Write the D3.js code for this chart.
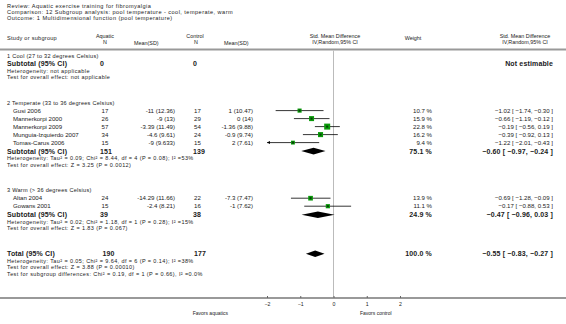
<html>
<head>
<meta charset="utf-8">
<style>
  body { margin: 0; background: #fff; }
  text { font-family: "Liberation Sans", Arial, sans-serif; fill: #1a1a1a; }
</style>
</head>
<body>
<svg id="container" width="566" height="324"></svg>
<script src="https://cdn.jsdelivr.net/npm/d3@7"></script>
<script>
    // ---- data ----
    let headerLines = ["Review:  Aquatic exercise training for fibromyalgia",
        "Comparison:  12 Subgroup analysis: pool temperature - cool, temperate, warm",
        "Outcome:  1 Multidimensional function (pool temperature)"]

    let groupLabels = ["1 Cool (27 to 32 degrees Celsius)",
        "2 Temperate (33 to 36 degrees Celsius)",
        "3 Warm (> 36 degrees Celsius)"]

    let studyNames = ["Gusi 2006", "Mannerkorpi 2000", "Mannerkorpi 2009", "Munguia-Izquierdo 2007",
        "Tomas-Carus 2006", "Altan 2004", "Gowans 2001"]
    let studyGroup = [1, 1, 1, 1, 1, 2, 2]
    let aquaticN = [17, 26, 57, 34, 15, 24, 15]
    let aquaticMeanSD = ["-11 (12.36)", "-9 (13)", "-3.39 (11.49)", "-4.6 (9.61)", "-9 (9.633)", "-14.29 (11.66)", "-2.4 (8.21)"]
    let controlN = [17, 29, 54, 24, 15, 22, 16]
    let controlMeanSD = ["1 (10.47)", "0 (14)", "-1.36 (9.88)", "-0.9 (9.74)", "2 (7.61)", "-7.3 (7.47)", "-1 (7.62)"]
    let weights = [10.7, 15.9, 22.8, 16.2, 9.4, 13.9, 11.1]
    let smd = [-1.02, -0.66, -0.19, -0.39, -1.22, -0.69, -0.17]
    let ciLow = [-1.74, -1.19, -0.56, -0.92, -2.01, -1.28, -0.88]
    let ciHigh = [-0.30, -0.12, 0.19, 0.13, -0.43, -0.09, 0.53]

    let subtotalAquaticN = [0, 151, 39]
    let subtotalControlN = [0, 139, 38]
    let subtotalWeight = [null, 75.1, 24.9]
    let subtotalSmd = [null, -0.60, -0.47]
    let subtotalLow = [null, -0.97, -0.96]
    let subtotalHigh = [null, -0.24, 0.03]
    let heterogeneity = ["Heterogeneity: not applicable",
        "Heterogeneity: Tau\u00b2 = 0.09; Chi\u00b2 = 8.44, df = 4 (P = 0.08); I\u00b2 =53%",
        "Heterogeneity: Tau\u00b2 = 0.02; Chi\u00b2 = 1.18, df = 1 (P = 0.28); I\u00b2 =15%"]
    let overallEffect = ["Test for overall effect: not applicable",
        "Test for overall effect: Z = 3.25 (P = 0.0012)",
        "Test for overall effect: Z = 1.83 (P = 0.067)"]

    let totalN = [190, 177]
    let totalWeight = 100.0
    let totalEstimate = [-0.55, -0.83, -0.27]
    let totalNotes = ["Heterogeneity: Tau\u00b2 = 0.05; Chi\u00b2 = 9.64, df = 6 (P = 0.14); I\u00b2 =38%",
        "Test for overall effect: Z = 3.88 (P = 0.00010)",
        "Test for subgroup differences: Chi\u00b2 = 0.19, df = 1 (P = 0.66), I\u00b2 =0.0%"]

    let axisTicks = [-2, -1, 0, 1, 2]
    let favorsLabels = ["Favors aquatics", "Favors control"]

    // ---- layout ----
    let svg = d3.select("#container")
    let W = 566
    let x = d3.scaleLinear().domain([-2, 2]).range([267, 400])
    let boxSize = d3.scaleSqrt().domain([0, 22.8]).range([0, 6])
    let f2 = d3.format(".2f")
    let ciText = (e, l, h) => f2(e) + " [ " + f2(l) + ", " + f2(h) + " ]"

    let col = { name: 7, indent: 13, aqN: 101.5, aqMean: 175, ctN: 194, ctMean: 253, weight: 432, ci: 553 }
    let topRule = 49.5, axisY = 298
    let fs = 6.1, fsHead = 5.4, fsBold = 7.0, fsNote = 5.5

    function txt(g, s, px, py, opts) {
        opts = opts || {}
        return g.append("text")
            .attr("x", px).attr("y", py)
            .attr("font-size", opts.size || fs)
            .attr("font-weight", opts.bold ? "bold" : "normal")
            .attr("text-anchor", opts.anchor || "start")
            .attr("letter-spacing", opts.ls || 0)
            .text(s)
    }
    let note = { size: fsNote, ls: 0.4 }
    let bold = { size: fsBold, bold: true, ls: 0.15 }

    // title lines
    headerLines.forEach((s, i) => txt(svg, s, 7, 7.5 + i * 6, { size: 5.6, ls: 0.45 }))

    // column headers
    txt(svg, "Study or subgroup", col.name, 40, { size: 5.6, ls: 0.25 })
    txt(svg, "Aquatic", 105, 38, { anchor: "middle", size: fsHead })
    txt(svg, "N", 105, 43.5, { anchor: "middle", size: fsHead })
    txt(svg, "Mean(SD)", 134, 45, { size: fsHead })
    txt(svg, "Control", 195, 38, { anchor: "middle", size: fsHead })
    txt(svg, "N", 196, 43.5, { anchor: "middle", size: fsHead })
    txt(svg, "Mean(SD)", 224, 45, { size: fsHead })
    txt(svg, "Std. Mean Difference", 335, 38, { anchor: "middle", size: fsHead })
    txt(svg, "IV,Random,95% CI", 335, 43.5, { anchor: "middle", size: fsHead })
    txt(svg, "Weight", 413, 40, { anchor: "middle", size: fsHead })
    txt(svg, "Std. Mean Difference", 525, 38, { anchor: "middle", size: fsHead })
    txt(svg, "IV,Random,95% CI", 525, 43.5, { anchor: "middle", size: fsHead })

    svg.append("line").attr("x1", 0).attr("x2", W).attr("y1", topRule).attr("y2", topRule)
        .attr("stroke", "#999").attr("stroke-width", 2)

    // zero line
    svg.append("line").attr("x1", x(0)).attr("x2", x(0)).attr("y1", topRule + 1).attr("y2", axisY)
        .attr("stroke", "#bbb").attr("stroke-width", 1)

    let body = svg.append("g")

    function diamond(e, l, h, cy) {
        body.append("path")
            .attr("d", `M${x(l)},${cy} L${x(e)},${cy - 3.3} L${x(h)},${cy} L${x(e)},${cy + 3.3} Z`)
            .attr("fill", "#000")
    }

    let y = 56
    groupLabels.forEach((label, g) => {
        txt(body, label, col.name, y + 2, { size: 5.6, ls: 0.25 })
        let idx = d3.range(studyNames.length).filter(i => studyGroup[i] === g)
        idx.forEach(i => {
            y += 8
            let b = y + 2.1
            txt(body, studyNames[i], col.indent, b)
            txt(body, aquaticN[i], col.aqN, b)
            txt(body, aquaticMeanSD[i], col.aqMean, b, { anchor: "end" })
            txt(body, controlN[i], col.ctN, b)
            txt(body, controlMeanSD[i], col.ctMean, b, { anchor: "end" })
            txt(body, weights[i].toFixed(1) + " %", col.weight, b, { anchor: "end" })
            txt(body, ciText(smd[i], ciLow[i], ciHigh[i]), col.ci, b, { anchor: "end" })
            let lo = Math.max(ciLow[i], -2), hi = Math.min(ciHigh[i], 2)
            body.append("line").attr("x1", x(lo)).attr("x2", x(hi)).attr("y1", y).attr("y2", y)
                .attr("stroke", "#000").attr("stroke-width", 0.8)
            if (ciLow[i] < -2) {
                body.append("path")
                    .attr("d", `M${x(-2)},${y} l3,-1.5 l0,3 Z`).attr("fill", "#000")
            }
            let s = boxSize(weights[i])
            body.append("rect").attr("x", x(smd[i]) - s / 2).attr("y", y - s / 2)
                .attr("width", s).attr("height", s).attr("fill", "#0a9a0a")
            body.append("rect").attr("x", x(smd[i]) - 1).attr("y", y - 1)
                .attr("width", 2).attr("height", 2).attr("fill", "#063f06")
        })
        y += idx.length ? 8.5 : 7.5
        let b = y + 2.5
        txt(body, "Subtotal (95% CI)", col.name, b, bold)
        txt(body, subtotalAquaticN[g], col.aqN - 1.5, b, bold)
        txt(body, subtotalControlN[g], col.ctN - 1, b, bold)
        if (subtotalSmd[g] === null) {
            txt(body, "Not estimable", col.ci, b, Object.assign({ anchor: "end" }, bold))
        } else {
            txt(body, subtotalWeight[g].toFixed(1) + " %", col.weight, b, Object.assign({ anchor: "end" }, bold))
            txt(body, ciText(subtotalSmd[g], subtotalLow[g], subtotalHigh[g]), col.ci, b,
                Object.assign({ anchor: "end" }, bold))
            diamond(subtotalSmd[g], subtotalLow[g], subtotalHigh[g], y)
        }
        y += 7.2
        txt(body, heterogeneity[g], col.name, y + 2, note)
        y += 6.4
        txt(body, overallEffect[g], col.name, y + 2, note)
        y += 25.5
    })

    // total
    let tb = y + 2.5
    txt(body, "Total (95% CI)", col.name, tb, bold)
    txt(body, totalN[0], col.aqN + 1, tb, bold)
    txt(body, totalN[1], col.ctN, tb, bold)
    txt(body, totalWeight.toFixed(1) + " %", col.weight, tb, Object.assign({ anchor: "end" }, bold))
    txt(body, ciText(totalEstimate[0], totalEstimate[1], totalEstimate[2]), col.ci, tb,
        Object.assign({ anchor: "end" }, bold))
    diamond(totalEstimate[0], totalEstimate[1], totalEstimate[2], y)
    totalNotes.forEach((s, i) => {
        y += i === 0 ? 7.2 : 6.4
        txt(body, s, col.name, y + 2, note)
    })

    // axis
    svg.append("line").attr("x1", 0).attr("x2", W).attr("y1", axisY).attr("y2", axisY)
        .attr("stroke", "#999").attr("stroke-width", 2)
    let axis = svg.append("g").attr("transform", `translate(0,${axisY})`)
        .call(d3.axisBottom(x).tickValues(axisTicks).tickSize(-2).tickPadding(4.5).tickFormat(d3.format("d")))
    axis.select(".domain").remove()
    axis.selectAll("text").attr("font-size", 5.2).attr("fill", "#1a1a1a")
        .attr("font-family", "Liberation Sans, Arial, sans-serif")
    axis.selectAll(".tick line").attr("stroke", "#666")

    txt(svg, favorsLabels[0], 228, 315, { anchor: "end", size: 5 })
    txt(svg, favorsLabels[1], 360, 315, { size: 5 })
</script>
</body>
</html>
